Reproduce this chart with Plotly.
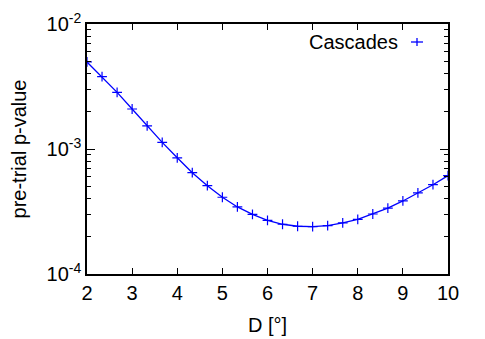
import plotly.graph_objects as go

D = [2.0, 2.333, 2.667, 3.0, 3.333, 3.667, 4.0, 4.333, 4.667, 5.0, 5.333, 5.667,
     6.0, 6.333, 6.667, 7.0, 7.333, 7.667, 8.0, 8.333, 8.667, 9.0, 9.333, 9.667, 10.0]
pvalue = [4.97e-3, 3.79e-3, 2.84e-3, 2.09e-3, 1.53e-3, 1.13e-3, 8.5e-4, 6.46e-4,
          5.09e-4, 4.11e-4, 3.44e-4, 3.00e-4, 2.69e-4, 2.50e-4, 2.41e-4, 2.39e-4,
          2.44e-4, 2.56e-4, 2.74e-4, 3.02e-4, 3.37e-4, 3.84e-4, 4.45e-4, 5.18e-4, 6.12e-4]
series_name = "Cascades"
x_ticks = [2, 3, 4, 5, 6, 7, 8, 9, 10]
y_ticks = [1e-4, 1e-3, 1e-2]
y_ticktext = ["10<sup>-4</sup>", "10<sup>-3</sup>", "10<sup>-2</sup>"]
y_minor = [m * 10 ** e for e in (-4, -3) for m in range(2, 10)]

BLUE = "#0000ff"
FONT = "Liberation Sans, Arial, sans-serif"
FS = 20

# page body has an 8px margin; screen coords of plot area: x 87..448, y 24..274
OFF = 8
W, H = 477, 331
L, T = 87 - OFF, 24 - OFF
pw, ph = 361, 250
R = W - L - pw
B = H - T - ph

fig = go.Figure()
fig.add_trace(go.Scatter(x=D, y=pvalue, mode="lines", line=dict(color=BLUE, width=1.3),
                         showlegend=False, hoverinfo="skip"))
fig.add_trace(go.Scatter(x=D, y=pvalue, mode="markers", name=series_name,
                         marker=dict(symbol="cross-thin", size=7, color=BLUE,
                                     line=dict(color=BLUE, width=1.2)),
                         showlegend=False))


def px(x):
    return (x - 87) / pw


def py(y):
    return (274 - y) / ph


fig.add_annotation(x=px(400), y=py(42), xref="paper", yref="paper", text=series_name,
                   showarrow=False, xanchor="right", yanchor="middle",
                   font=dict(family=FONT, size=FS, color="black"))
fig.add_shape(type="line", xref="paper", yref="paper", x0=px(411), x1=px(423),
              y0=py(42), y1=py(42), line=dict(color=BLUE, width=1.3))
fig.add_shape(type="line", xref="paper", yref="paper", x0=px(417), x1=px(417),
              y0=py(38), y1=py(46), line=dict(color=BLUE, width=1.3))

fig.update_layout(
    width=W, height=H,
    margin=dict(l=L, r=R, t=T, b=B, autoexpand=False),
    paper_bgcolor="white", plot_bgcolor="white",
    font=dict(family=FONT, size=FS, color="black"),
    showlegend=False,
    xaxis=dict(range=[2, 10], tickmode="array", tickvals=x_ticks, automargin=False,
               ticks="inside", ticklen=6, tickwidth=1.2, tickcolor="black",
               showline=True, linecolor="black", linewidth=1.5, mirror="allticks",
               showgrid=False, zeroline=False, tickfont=dict(size=FS),
               title=dict(text="D [°]", font=dict(size=FS))),
    yaxis=dict(type="log", range=[-4, -2], tickmode="array", tickvals=y_ticks,
               ticktext=y_ticktext, ticks="inside", ticklen=8, tickwidth=1.2,
               automargin=False,
               tickcolor="black", showline=True, linecolor="black", linewidth=1.5,
               mirror="allticks", showgrid=False, zeroline=False, tickfont=dict(size=FS),
               minor=dict(tickmode="array", tickvals=y_minor, ticks="inside",
                          ticklen=4, tickwidth=1.2, tickcolor="black", showgrid=False),
               title=dict(text="pre-trial p-value", font=dict(size=FS))),
)

fig.write_html("out.html")
